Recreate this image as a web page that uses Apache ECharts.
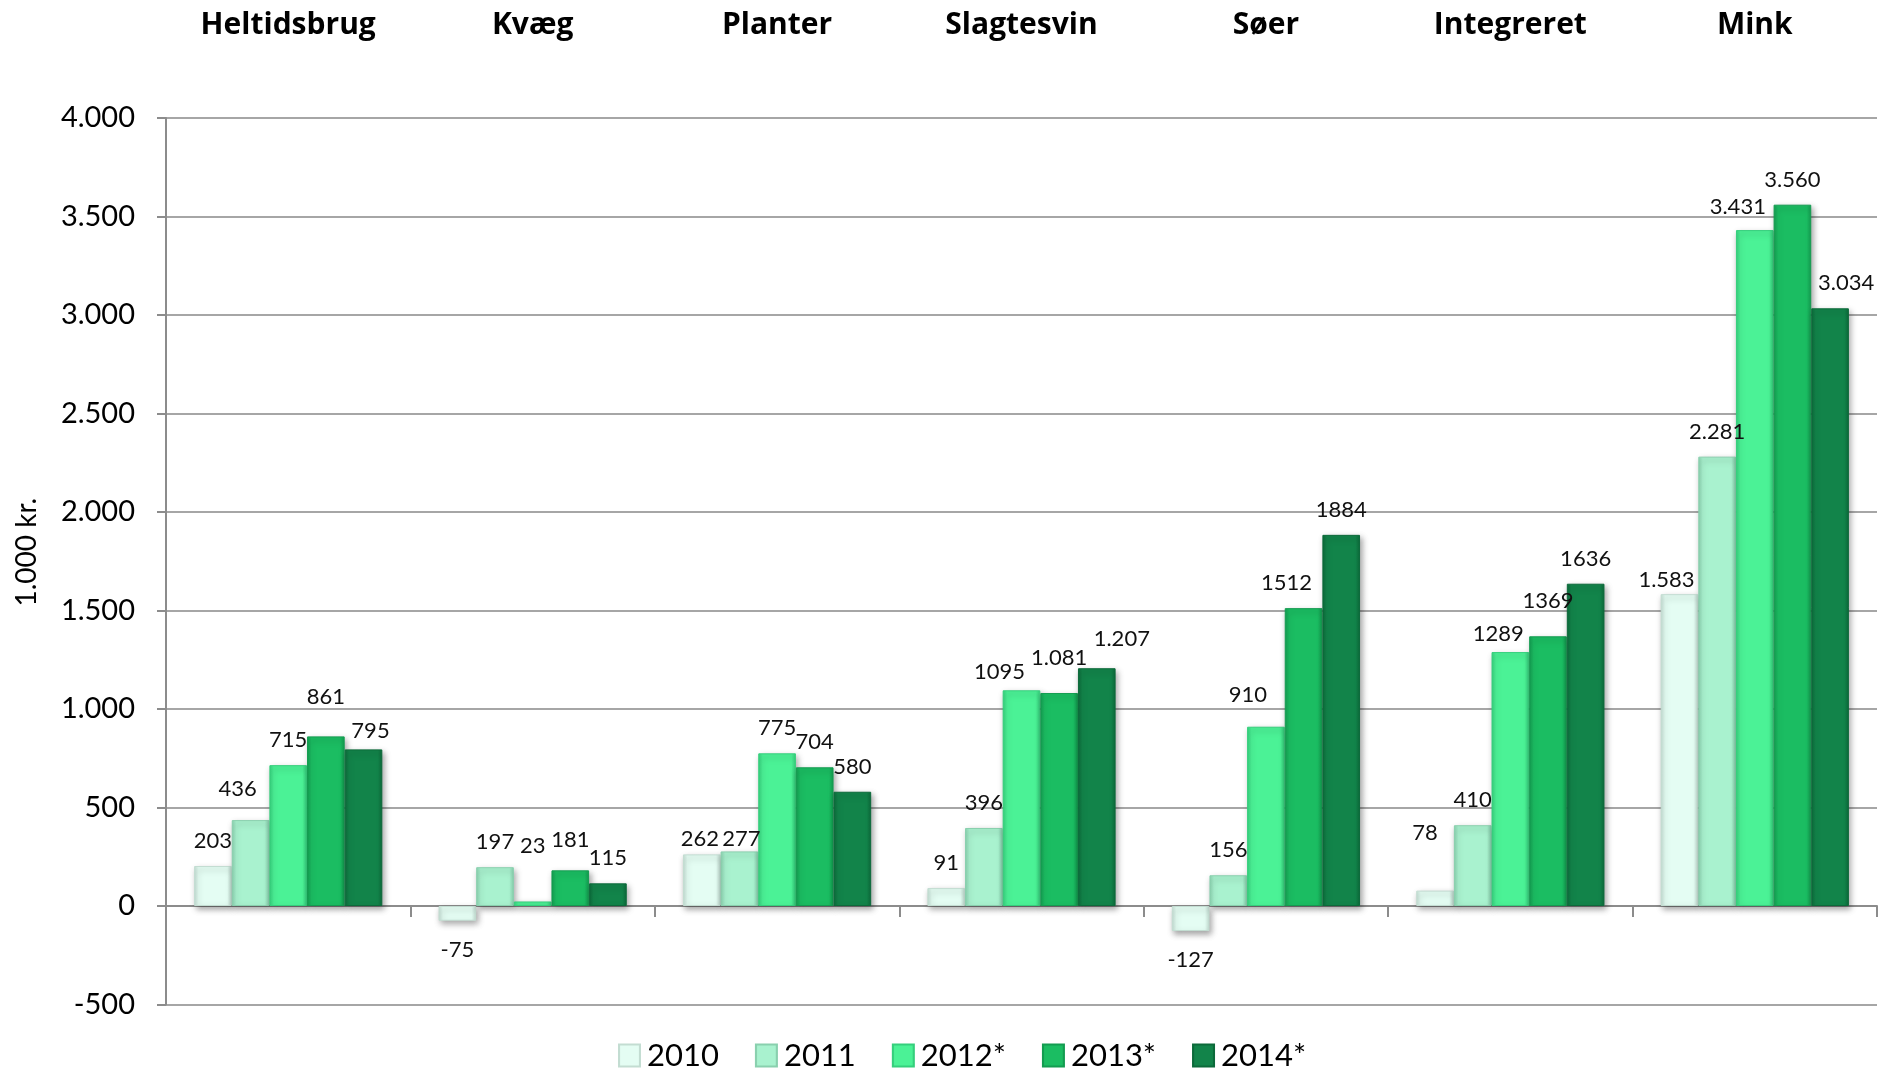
<!DOCTYPE html>
<html>
<head>
<meta charset="utf-8">
<script src="https://cdn.jsdelivr.net/npm/echarts@6/dist/echarts.min.js"></script>
<style>
html,body{margin:0;padding:0;background:#fff;}
#chart{width:1894px;height:1072px;}
</style>
</head>
<body>
<div id="chart"></div>
<script>
const categories = ['Heltidsbrug','Kvæg','Planter','Slagtesvin','Søer','Integreret','Mink'];
const seriesNames = ['2010','2011','2012*','2013*','2014*'];
const values2010 = [203, -75, 262, 91, -127, 78, 1583];
const values2011 = [436, 197, 277, 396, 156, 410, 2281];
const values2012 = [715, 23, 775, 1095, 910, 1289, 3431];
const values2013 = [861, 181, 704, 1081, 1512, 1369, 3560];
const values2014 = [795, 115, 580, 1207, 1884, 1636, 3034];
const labels2010 = ['203','-75','262','91','-127','78','1.583'];
const labels2011 = ['436','197','277','396','156','410','2.281'];
const labels2012 = ['715','23','775','1095','910','1289','3.431'];
const labels2013 = ['861','181','704','1.081','1512','1369','3.560'];
const labels2014 = ['795','115','580','1.207','1884','1636','3.034'];
const yTicks = {min: -500, max: 4000, interval: 500};

// label nudges (style only): key "series-category" -> [dx, dy] in px
const labelNudge = {
  '1-0': [-13, -6], '3-0': [0, -14], '4-0': [7, 7],
  '2-1': [0, -31], '3-1': [0, -5],
  '0-2': [-2, 10], '1-2': [2, 12],
  '2-3': [-22, 7], '3-3': [0, -10], '4-3': [25, -4],
  '2-4': [-18, -7], '3-4': [-17, 0],
  '0-5': [-10, -33], '2-5': [-12, 7], '3-5': [0, -10],
  '0-6': [-13, 11], '2-6': [-17, 2], '4-6': [16, 0]
};

const allValues = [values2010, values2011, values2012, values2013, values2014];
const allLabels = [labels2010, labels2011, labels2012, labels2013, labels2014];
const baseColors = ['#e4fdf3', '#a9f2cf', '#4bf296', '#1bbd62', '#12844a'];
const edgeColors = ['#c3ddd2', '#89d0ae', '#35cf7c', '#139c50', '#0c6a3a'];

function fmtThousands(v) {
  const s = String(Math.abs(v)).replace(/\B(?=(\d{3})+(?!\d))/g, '.');
  return (v < 0 ? '-' : '') + s;
}

const FONT = 'Lato, "Open Sans", sans-serif';

const series = seriesNames.map((name, si) => ({
  name: name,
  type: 'bar',
  barGap: '0%',
  barCategoryGap: '23%',
  itemStyle: {
    color: {
      type: 'linear', x: 0, y: 0, x2: 1, y2: 0,
      colorStops: [
        {offset: 0, color: edgeColors[si]},
        {offset: 0.12, color: baseColors[si]},
        {offset: 0.88, color: baseColors[si]},
        {offset: 1, color: edgeColors[si]}
      ]
    },
    borderColor: edgeColors[si],
    borderWidth: 1,
    shadowColor: 'rgba(0,0,0,0.35)',
    shadowBlur: 6,
    shadowOffsetX: 2,
    shadowOffsetY: 3
  },
  label: {
    show: true,
    fontFamily: FONT,
    fontSize: 22,
    color: '#111',
    formatter: p => allLabels[si][p.dataIndex]
  },
  data: allValues[si].map((v, ci) => ({
    value: v,
    label: {
      position: v < 0 ? 'bottom' : 'top',
      distance: v < 0 ? 18 : 14,
      offset: labelNudge[si + '-' + ci] || [0, 0]
    }
  }))
}));

const chart = echarts.init(document.getElementById('chart'));
chart.setOption({
  animation: false,
  backgroundColor: '#ffffff',
  grid: {left: 166, right: 17, top: 118, bottom: 67.5, containLabel: false},
  legend: {
    data: seriesNames,
    left: 613,
    top: 1035,
    itemWidth: 21,
    itemHeight: 22,
    itemGap: 36,
    icon: 'rect',
    textStyle: {fontFamily: FONT, fontSize: 31, color: '#000', padding: [0, 0, 0, 2]}
  },
  xAxis: [
    {
      type: 'category',
      data: categories,
      position: 'bottom',
      axisLine: {show: true, onZero: true, lineStyle: {color: '#8c8c8c', width: 2}},
      axisTick: {show: true, length: 11, lineStyle: {color: '#8c8c8c', width: 2}},
      axisLabel: {show: false}
    },
    {
      type: 'category',
      data: categories,
      position: 'top',
      axisLine: {show: false},
      axisTick: {show: false},
      axisLabel: {show: true, margin: 78, fontFamily: '"Open Sans", Lato, sans-serif', fontWeight: 'bold', fontSize: 30, color: '#000'}
    }
  ],
  yAxis: {
    type: 'value',
    min: yTicks.min,
    max: yTicks.max,
    interval: yTicks.interval,
    name: '1.000 kr.',
    nameLocation: 'middle',
    nameGap: 125,
    nameRotate: 90,
    nameTextStyle: {fontFamily: FONT, fontSize: 28, color: '#000', padding: [0, 0, 0, 18]},
    axisLine: {show: true, lineStyle: {color: '#8c8c8c', width: 2}},
    axisTick: {show: true, length: 9, lineStyle: {color: '#8c8c8c', width: 2}},
    axisLabel: {fontFamily: FONT, fontSize: 29, color: '#000', margin: 31, formatter: v => fmtThousands(v)},
    splitLine: {show: true, lineStyle: {color: '#a6a6a6', width: 2}}
  },
  series: series
});
</script>
</body>
</html>
